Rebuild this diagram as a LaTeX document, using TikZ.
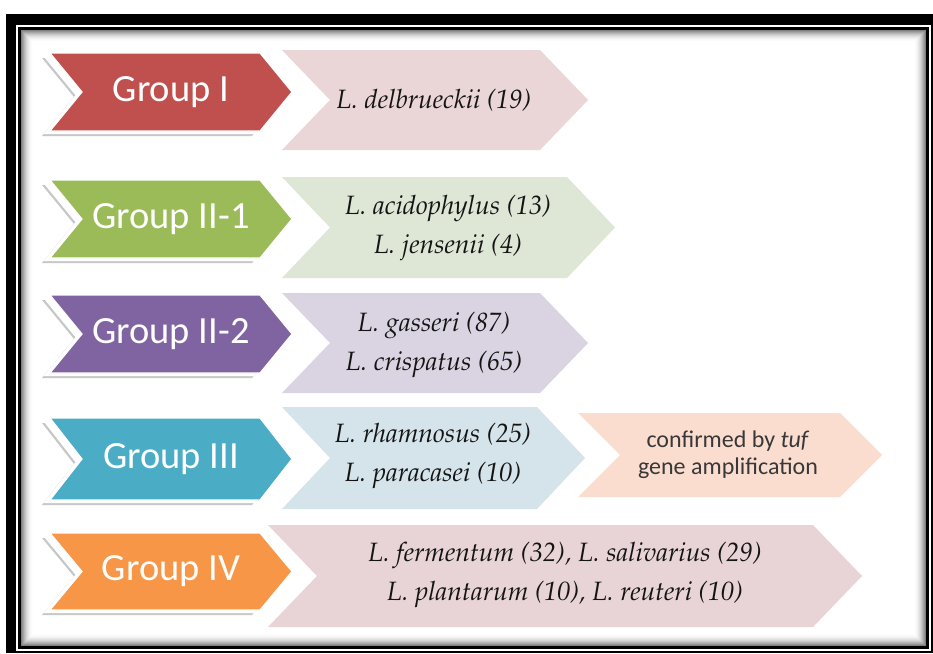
\documentclass[tikz,border=0pt]{standalone}
\usepackage[T1]{fontenc}
\usepackage{fontspec}
\newfontfamily\grpfont{Carlito}
\newcommand{\spfont}{\fontencoding{T1}\fontfamily{ppl}\fontshape{it}\selectfont}
\definecolor{cRed}{RGB}{192,80,77}
\definecolor{cGreen}{RGB}{155,187,89}
\definecolor{cPurple}{RGB}{128,100,162}
\definecolor{cBlue}{RGB}{75,172,198}
\definecolor{cOrange}{RGB}{247,150,70}
\definecolor{pRed}{RGB}{234,214,214}
\definecolor{pGreen}{RGB}{222,230,214}
\definecolor{pPurple}{RGB}{218,212,226}
\definecolor{pBlue}{RGB}{212,228,234}
\definecolor{pOrange}{RGB}{251,221,208}
\definecolor{pMauve}{RGB}{232,212,214}
% left, tip, top, bottom, depth
\newcommand{\chev}[5]{(#1,#3) -- ({#2-#5},#3) -- (#2,{(#3+#4)/2}) -- ({#2-#5},#4) -- (#1,#4) -- ({#1+#5},{(#3+#4)/2}) -- cycle}
\newcommand{\grpchev}[3]{%
  \fill[black!22, shift={(-8,5)}] \chev{50}{292}{#2}{#3}{32};
  \fill[white, shift={(-6.5,3.2)}] \chev{50}{292}{#2}{#3}{32};
  \fill[#1, draw=white, line width=1.2pt] \chev{50}{292}{#2}{#3}{32};
}
\tikzset{
  grp/.style={font=\grpfont\fontsize{38.5}{40}\selectfont, text=white, inner sep=0pt},
  sp/.style={font=\spfont\fontsize{26.5}{39}\selectfont, text=black!92, align=center, inner sep=0pt},
  conf/.style={font=\grpfont\fontsize{24}{27}\selectfont, text=black!78, align=center, inner sep=0pt}
}
\begin{document}
\begin{tikzpicture}[x=1pt,y=-1pt]
\useasboundingbox (0,0) rectangle (933,653);
\fill[white] (0,0) rectangle (933,653);
% frame
\fill[black] (6,14) rectangle (933,653);
\fill[white] (16,25) rectangle (931,651);
\fill[black] (18,27) rectangle (929,649);
\fill[white] (21,30) rectangle (926,646);
\foreach \i in {0,...,11} {
  \pgfmathsetmacro\op{0.5*(1-\i/12)^2}
  \draw[black, opacity=\op, line width=1pt] (21.5+\i,30.5+\i) rectangle (925.5-\i,645.5-\i);
}
% pale chevrons
\fill[pRed] \chev{282}{588}{50}{150}{48};
\fill[pGreen] \chev{282}{615}{177}{278}{48};
\fill[pPurple] \chev{282}{588}{293}{393}{48};
\fill[pBlue] \chev{282}{585}{407}{509}{48};
\fill[pOrange] \chev{578}{882}{413}{497}{42};
\fill[pMauve] \chev{268}{862}{525}{627}{49};
% group chevrons
\grpchev{cRed}{53}{131}
\grpchev{cGreen}{180}{258}
\grpchev{cPurple}{295}{373}
\grpchev{cBlue}{418}{500}
\grpchev{cOrange}{533}{610}
% group labels
\node[grp] (g1) at (171,92) {Group I};
\node[grp] (g2) at (171,219) {Group II-1};
\node[grp] (g3) at (171,334) {Group II-2};
\node[grp] (g4) at (171,459) {Group III};
\node[grp] (g5) at (171,571) {Group IV};
% species
\node[sp] (s1) at (434,100) {L. delbrueckii (19)};
\node[sp] (s2) at (448,228.5) {L. acidophylus (13)\\L. jensenii (4)};
\node[sp] (s3) at (434,345) {L. gasseri (87)\\L. crispatus (65)};
\node[sp] (s4) at (433,456) {L. rhamnosus (25)\\L. paracasei (10)};
\node[sp] (s5) at (565,575) {L. fermentum (32), L. salivarius (29)\\L. plantarum (10), L. reuteri (10)};
\node[conf] (c4) at (728,455) {confirmed by \textit{tuf}\\gene amplification};
\end{tikzpicture}
\end{document}
